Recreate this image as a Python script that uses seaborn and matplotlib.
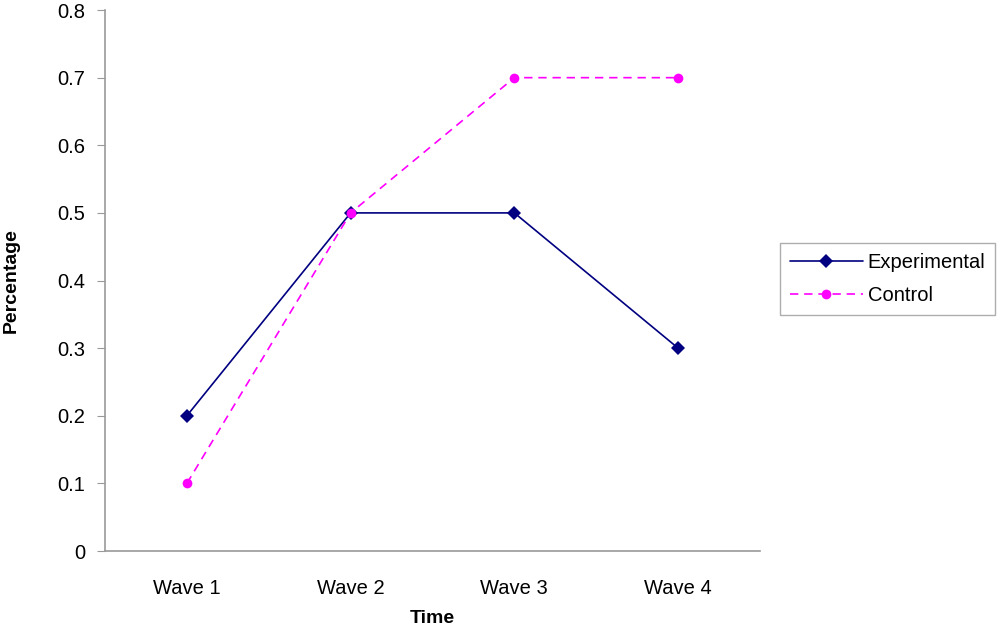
import pandas as pd
import seaborn as sns
import matplotlib.pyplot as plt

# Data
WAVES = ["Wave 1", "Wave 2", "Wave 3", "Wave 4"]
EXPERIMENTAL = [0.2, 0.5, 0.5, 0.3]
CONTROL = [0.1, 0.5, 0.7, 0.7]
Y_TICKS = [0, 0.1, 0.2, 0.3, 0.4, 0.5, 0.6, 0.7, 0.8]

sns.set_style("white")
plt.rcParams["font.family"] = ["Liberation Sans", "DejaVu Sans"]
plt.rcParams["text.color"] = "black"
plt.rcParams["axes.labelcolor"] = "black"
plt.rcParams["xtick.labelcolor"] = "black"
plt.rcParams["ytick.labelcolor"] = "black"

df = pd.DataFrame({
    "wave": WAVES * 2,
    "value": EXPERIMENTAL + CONTROL,
    "group": ["Experimental"] * len(WAVES) + ["Control"] * len(WAVES),
})

fig = plt.figure(figsize=(10, 6.28), dpi=100)
ax = fig.add_axes([0.105, 0.1226, 0.655, 0.8614])

palette = {"Experimental": "#000080", "Control": "#FF00FF"}
sns.lineplot(
    data=df, x="wave", y="value", hue="group", style="group",
    palette=palette,
    dashes={"Experimental": "", "Control": (5, 3.5)},
    markers={"Experimental": "D", "Control": "o"},
    markersize=7, linewidth=1.2, markeredgewidth=0,
    sort=False, ax=ax,
)

ax.set_xlim(-0.5, 3.5)
ax.set_ylim(0, 0.8)
ax.set_yticks(Y_TICKS)
ax.set_yticklabels([f"{t:g}" for t in Y_TICKS])

# Excel-style ticks between categories
ax.set_xticks([0, 1, 2, 3])
ax.set_xticklabels(WAVES)
ax.set_xticks([-0.5, 0.5, 1.5, 2.5, 3.5], minor=True)
ax.tick_params(axis="x", which="major", length=0, pad=20, labelsize=14.5)
ax.tick_params(axis="x", which="minor", length=6, color="#999999", direction="out")
ax.tick_params(axis="y", length=6, color="#999999", direction="out", labelsize=14.5, pad=8, left=True)

for side in ["top", "right"]:
    ax.spines[side].set_visible(False)
for side in ["left", "bottom"]:
    ax.spines[side].set_color("#999999")
    ax.spines[side].set_linewidth(1.2)

ax.set_xlabel("Time", fontsize=14, fontweight="bold", labelpad=9)
ax.set_ylabel("Percentage", fontsize=14, fontweight="bold", labelpad=27)

leg = ax.legend(
    loc="center left", bbox_to_anchor=(0.770, 0.556), bbox_transform=fig.transFigure,
    fontsize=14.5, frameon=True, fancybox=False, handlelength=3.6,
    borderpad=0.5, labelspacing=0.7, handletextpad=0.25, title=None,
)
leg.get_frame().set_edgecolor("#999999")
leg.get_frame().set_linewidth(1.0)

fig.savefig("out.png", dpi=100)
